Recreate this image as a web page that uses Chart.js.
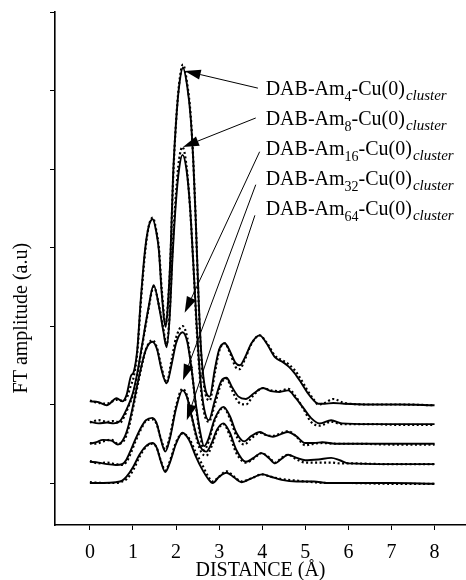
<!DOCTYPE html>
<html>
<head>
<meta charset="utf-8">
<script src="https://cdn.jsdelivr.net/npm/chart.js@4.4.1/dist/chart.umd.min.js"></script>
<style>
  html, body { margin: 0; padding: 0; background: #fff; }
  #wrap { width: 466px; height: 580px; }
</style>
</head>
<body>
<div id="wrap"><canvas id="ft-chart" width="466" height="580"></canvas></div>
<script>
// distancias (Å) de cada curva, compartidas por la curva experimental y el ajuste
const dist4 = [0, 0.2, 0.39, 0.62, 0.75, 0.85, 0.95, 1.02, 1.1, 1.18, 1.28, 1.37, 1.46, 1.54, 1.6, 1.67, 1.76, 1.82, 1.87, 1.93, 2.0, 2.07, 2.16, 2.26, 2.34, 2.4, 2.46, 2.52, 2.58, 2.66, 2.78, 2.9, 3.0, 3.13, 3.25, 3.38, 3.48, 3.6, 3.75, 3.94, 4.1, 4.3, 4.48, 4.62, 4.75, 4.9, 5.05, 5.2, 5.3, 5.45, 5.65, 5.9, 6.5, 7.2, 8.0];
const am4Exp = [1.04, 1.03, 0.99, 1.08, 1.04, 1.12, 1.36, 1.42, 1.7, 2.33, 2.97, 3.28, 3.36, 3.2, 2.97, 2.4, 1.99, 2.35, 2.9, 3.9, 4.6, 5.05, 5.29, 5.05, 4.65, 4.1, 3.3, 2.4, 1.7, 1.25, 1.10, 1.45, 1.70, 1.78, 1.68, 1.53, 1.50, 1.60, 1.78, 1.88, 1.78, 1.60, 1.54, 1.48, 1.40, 1.28, 1.15, 1.05, 1.01, 1.01, 1.02, 1.01, 1.0, 1.0, 0.99];
const am4Fit = [1.05, 1.02, 1.01, 1.06, 1.05, 1.08, 1.24, 1.36, 1.66, 2.28, 2.93, 3.28, 3.38, 3.22, 3.0, 2.45, 2.02, 2.35, 2.85, 3.85, 4.6, 5.08, 5.33, 5.08, 4.68, 4.1, 3.3, 2.35, 1.65, 1.2, 1.05, 1.4, 1.68, 1.78, 1.66, 1.48, 1.45, 1.58, 1.77, 1.88, 1.79, 1.62, 1.56, 1.51, 1.44, 1.32, 1.18, 1.06, 1.0, 1.02, 1.07, 1.02, 1.0, 1.0, 0.99];

const dist8 = [0, 0.2, 0.4, 0.55, 0.7, 0.8, 0.9, 1.0, 1.1, 1.2, 1.35, 1.48, 1.62, 1.7, 1.78, 1.85, 1.92, 2.0, 2.07, 2.15, 2.24, 2.32, 2.4, 2.48, 2.56, 2.65, 2.76, 2.9, 3.05, 3.17, 3.3, 3.45, 3.62, 3.8, 4.02, 4.2, 4.4, 4.6, 4.78, 4.95, 5.13, 5.33, 5.6, 5.85, 6.5, 7.2, 8.0];
const am8Exp = [0.78, 0.76, 0.77, 0.76, 0.79, 0.88, 1.0, 1.15, 1.4, 1.72, 2.2, 2.52, 2.2, 1.95, 1.73, 2.1, 2.9, 3.6, 4.0, 4.18, 4.0, 3.55, 2.8, 2.0, 1.35, 0.95, 0.80, 1.05, 1.30, 1.34, 1.22, 1.10, 1.07, 1.14, 1.21, 1.17, 1.16, 1.18, 1.08, 0.96, 0.83, 0.76, 0.80, 0.76, 0.75, 0.75, 0.75];
const am8Fit = [0.77, 0.80, 0.78, 0.79, 0.77, 0.85, 0.98, 1.12, 1.38, 1.7, 2.18, 2.5, 2.22, 1.98, 1.76, 2.15, 3.0, 3.7, 4.12, 4.28, 4.05, 3.55, 2.8, 1.95, 1.3, 0.9, 0.78, 1.0, 1.27, 1.33, 1.18, 1.03, 1.0, 1.12, 1.21, 1.18, 1.17, 1.2, 1.1, 0.95, 0.78, 0.73, 0.78, 0.75, 0.75, 0.74, 0.74];

const dist16 = [0, 0.15, 0.3, 0.5, 0.65, 0.8, 0.9, 1.0, 1.1, 1.2, 1.3, 1.45, 1.56, 1.66, 1.78, 1.9, 2.0, 2.15, 2.26, 2.36, 2.46, 2.56, 2.65, 2.75, 2.9, 3.1, 3.25, 3.4, 3.58, 3.75, 3.95, 4.1, 4.25, 4.42, 4.6, 4.78, 5.0, 5.2, 5.4, 5.7, 6.2, 7.0, 8.0];
const am16Exp = [0.50, 0.52, 0.55, 0.54, 0.49, 0.58, 0.74, 0.98, 1.25, 1.5, 1.7, 1.80, 1.7, 1.45, 1.27, 1.52, 1.78, 1.92, 1.8, 1.45, 1.0, 0.65, 0.47, 0.56, 0.82, 0.97, 0.85, 0.64, 0.53, 0.60, 0.65, 0.61, 0.59, 0.62, 0.65, 0.6, 0.51, 0.51, 0.52, 0.50, 0.50, 0.50, 0.50];
const am16Fit = [0.51, 0.50, 0.53, 0.55, 0.50, 0.55, 0.70, 0.95, 1.22, 1.48, 1.7, 1.82, 1.72, 1.48, 1.28, 1.58, 1.85, 2.0, 1.85, 1.45, 0.98, 0.6, 0.42, 0.52, 0.8, 0.96, 0.82, 0.6, 0.49, 0.57, 0.64, 0.61, 0.6, 0.63, 0.66, 0.6, 0.48, 0.5, 0.51, 0.5, 0.5, 0.49, 0.49];

const dist32 = [0, 0.2, 0.4, 0.6, 0.75, 0.85, 0.95, 1.05, 1.2, 1.3, 1.45, 1.55, 1.65, 1.75, 1.85, 2.0, 2.15, 2.25, 2.35, 2.5, 2.6, 2.7, 2.82, 2.95, 3.1, 3.25, 3.4, 3.62, 3.8, 3.98, 4.15, 4.3, 4.45, 4.6, 4.8, 5.0, 5.3, 5.6, 5.8, 6.0, 7.0, 8.0];
const am32Exp = [0.27, 0.26, 0.24, 0.23, 0.24, 0.30, 0.42, 0.55, 0.72, 0.80, 0.83, 0.76, 0.55, 0.40, 0.55, 0.95, 1.18, 1.1, 0.88, 0.55, 0.43, 0.40, 0.5, 0.68, 0.76, 0.64, 0.42, 0.27, 0.32, 0.38, 0.32, 0.25, 0.31, 0.36, 0.32, 0.29, 0.30, 0.32, 0.29, 0.25, 0.24, 0.24];
const am32Fit = [0.28, 0.25, 0.26, 0.24, 0.23, 0.27, 0.38, 0.52, 0.7, 0.79, 0.81, 0.75, 0.56, 0.43, 0.58, 0.98, 1.2, 1.12, 0.88, 0.52, 0.38, 0.35, 0.46, 0.66, 0.75, 0.6, 0.38, 0.26, 0.31, 0.38, 0.33, 0.26, 0.32, 0.36, 0.3, 0.26, 0.26, 0.26, 0.25, 0.25, 0.24, 0.24];

const dist64 = [0, 0.3, 0.6, 0.75, 0.85, 1.0, 1.15, 1.3, 1.45, 1.55, 1.65, 1.75, 1.85, 2.0, 2.15, 2.3, 2.45, 2.6, 2.75, 2.85, 3.0, 3.17, 3.35, 3.52, 3.75, 4.0, 4.2, 4.45, 4.8, 5.2, 5.5, 6.0, 7.0, 8.0];
const am64Exp = [0.0, 0.0, 0.01, 0.03, 0.08, 0.2, 0.36, 0.47, 0.51, 0.45, 0.27, 0.14, 0.25, 0.5, 0.64, 0.55, 0.35, 0.18, 0.05, 0.0, 0.08, 0.13, 0.07, 0.01, 0.06, 0.11, 0.08, 0.04, 0.02, 0.02, 0.0, 0.0, 0.0, -0.01];
const am64Fit = [0.01, 0.0, 0.0, 0.02, 0.05, 0.16, 0.33, 0.46, 0.5, 0.45, 0.28, 0.16, 0.27, 0.52, 0.63, 0.57, 0.4, 0.24, 0.08, 0.02, 0.08, 0.15, 0.08, 0.02, 0.06, 0.11, 0.08, 0.05, 0.03, 0.01, 0.0, 0.0, -0.01, -0.01];

const xTicks = [0, 1, 2, 3, 4, 5, 6, 7, 8];
const yTicks = [0, 1, 2, 3, 4, 5, 6];

// etiquetas y flechas (en unidades de los ejes)
const subindices = ['4', '8', '16', '32', '64'];
const etiquetaX = 4.08;
const etiquetaY = [4.94, 4.56, 4.18, 3.80, 3.41];
const colaX = [3.90, 3.85, 3.94, 3.85, 3.83];
const colaY = [5.03, 4.65, 4.22, 3.80, 3.41];
const puntaX = [2.20, 2.16, 2.20, 2.16, 2.25];
const puntaY = [5.25, 4.28, 2.17, 1.31, 0.80];

const FUENTE = '"Liberation Serif", "Times New Roman", serif';

function puntos(xs, ys) {
  return xs.map((x, i) => ({ x: x, y: ys[i] }));
}

function curva(xs, ys, punteada) {
  return {
    data: puntos(xs, ys),
    borderColor: '#000',
    borderWidth: punteada ? 2.2 : 1.9,
    borderDash: punteada ? [2, 2.5] : [],
    pointRadius: 0,
    fill: false,
    cubicInterpolationMode: 'monotone'
  };
}

const series = [
  [dist4, am4Exp, am4Fit],
  [dist8, am8Exp, am8Fit],
  [dist16, am16Exp, am16Fit],
  [dist32, am32Exp, am32Fit],
  [dist64, am64Exp, am64Fit]
];

const datasets = [];
series.forEach(s => {
  datasets.push(curva(s[0], s[2], true));
  datasets.push(curva(s[0], s[1], false));
});

function dibujarEtiqueta(ctx, x, y, sub) {
  ctx.font = '20px ' + FUENTE;
  ctx.fillText('DAB-Am', x, y);
  x += ctx.measureText('DAB-Am').width;
  ctx.font = '14px ' + FUENTE;
  ctx.fillText(sub, x, y + 6);
  x += ctx.measureText(sub).width;
  ctx.font = '20px ' + FUENTE;
  ctx.fillText('-Cu(0)', x, y);
  x += ctx.measureText('-Cu(0)').width;
  ctx.font = 'italic 15px ' + FUENTE;
  ctx.fillText('cluster', x + 1, y + 5);
}

const notasPlugin = {
  id: 'notas',
  afterDraw(chart) {
    const ctx = chart.ctx;
    const sx = chart.scales.x;
    const sy = chart.scales.y;
    ctx.save();
    ctx.fillStyle = '#000';
    ctx.strokeStyle = '#000';

    // titulo del eje y
    ctx.save();
    ctx.translate(sy.right - 33, sy.getPixelForValue(2.1));
    ctx.rotate(-Math.PI / 2);
    ctx.font = '20px ' + FUENTE;
    ctx.textAlign = 'center';
    ctx.textBaseline = 'middle';
    ctx.fillText('FT amplitude (a.u)', 0, 0);
    ctx.restore();

    ctx.textAlign = 'left';
    ctx.textBaseline = 'alphabetic';
    subindices.forEach((sub, i) => {
      dibujarEtiqueta(ctx, sx.getPixelForValue(etiquetaX), sy.getPixelForValue(etiquetaY[i]), sub);

      const x0 = sx.getPixelForValue(colaX[i]);
      const y0 = sy.getPixelForValue(colaY[i]);
      const x1 = sx.getPixelForValue(puntaX[i]);
      const y1 = sy.getPixelForValue(puntaY[i]);
      const ang = Math.atan2(y1 - y0, x1 - x0);
      const largo = 16, ancho = 5;
      const bx = x1 - largo * Math.cos(ang);
      const by = y1 - largo * Math.sin(ang);
      ctx.lineWidth = 1;
      ctx.beginPath();
      ctx.moveTo(x0, y0);
      ctx.lineTo(bx, by);
      ctx.stroke();
      ctx.beginPath();
      ctx.moveTo(x1, y1);
      ctx.lineTo(bx + ancho * Math.sin(ang), by - ancho * Math.cos(ang));
      ctx.lineTo(bx - ancho * Math.sin(ang), by + ancho * Math.cos(ang));
      ctx.closePath();
      ctx.fill();
    });
    ctx.restore();
  }
};

const chartCanvas = document.querySelector('#ft-chart');

new Chart(chartCanvas, {
  type: 'line',
  data: { datasets: datasets },
  options: {
    responsive: false,
    animation: false,
    devicePixelRatio: 1,
    layout: { padding: { top: 12, right: 0, bottom: 0, left: 0 } },
    plugins: { legend: { display: false }, tooltip: { enabled: false } },
    scales: {
      x: {
        type: 'linear',
        min: -0.81,
        max: 8.73,
        afterBuildTicks: s => { s.ticks = xTicks.map(v => ({ value: v })); },
        afterFit: s => { s.height = 55; },
        ticks: {
          color: '#000',
          font: { family: FUENTE, size: 20 },
          padding: 11,
          maxRotation: 0,
          autoSkip: false
        },
        grid: { display: true, drawOnChartArea: false, drawTicks: true, tickLength: 5, color: '#000', lineWidth: 1 },
        border: { display: true, color: '#000', width: 1.6 },
        title: {
          display: true,
          text: 'DISTANCE (Å)',
          color: '#000',
          font: { family: FUENTE, size: 20, lineHeight: 1 },
          padding: { top: 0, bottom: -1 }
        }
      },
      y: {
        type: 'linear',
        min: -0.535,
        max: 6.0,
        afterBuildTicks: s => { s.ticks = yTicks.map(v => ({ value: v })); },
        afterFit: s => { s.width = 55; },
        ticks: { display: false },
        grid: { display: true, drawOnChartArea: false, drawTicks: true, tickLength: 5, color: '#000', lineWidth: 1 },
        border: { display: true, color: '#000', width: 1.6 }
      }
    }
  },
  plugins: [notasPlugin]
});
</script>
</body>
</html>
